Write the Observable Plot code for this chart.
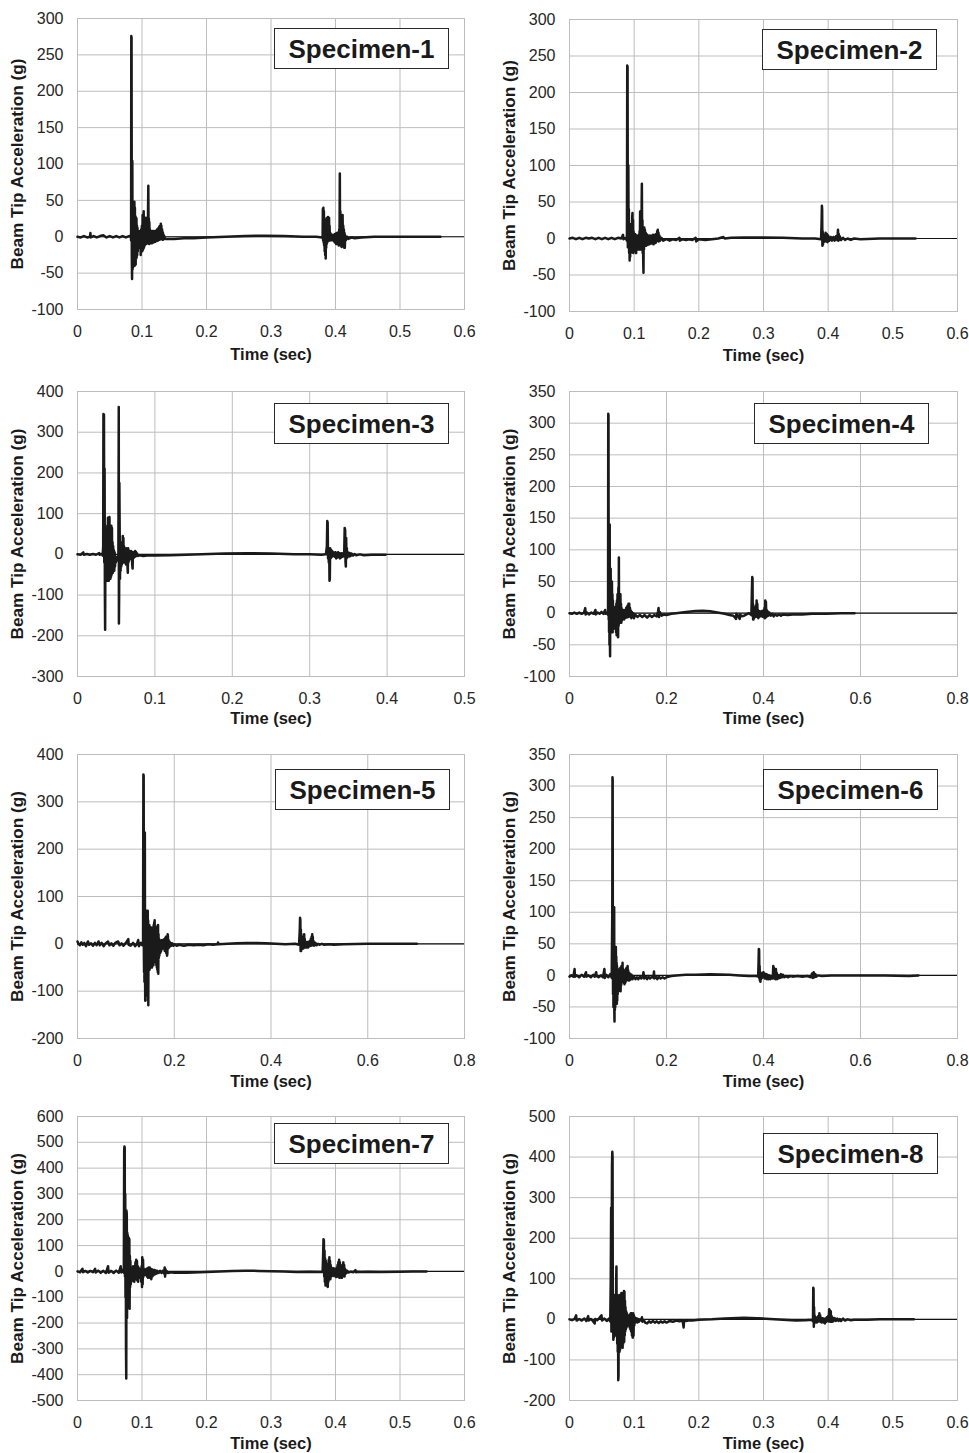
<!DOCTYPE html>
<html><head><meta charset="utf-8">
<script src="https://cdn.jsdelivr.net/npm/d3@7"></script>
<script src="https://cdn.jsdelivr.net/npm/@observablehq/plot@0.6"></script>
<style>
body{margin:0;background:#fff;}
#root{position:relative;width:969px;height:1453px;font-family:"Liberation Sans",Arial,sans-serif;background:#fff;}
.panel{position:absolute;}
.tag{position:absolute;border:1.5px solid #2a2a2a;background:#fff;font-weight:bold;font-size:26px;color:#1a1a1a;display:flex;align-items:center;justify-content:center;box-sizing:border-box;line-height:1;}
</style></head><body><div id="root"></div>
<script>
// ---- tick values ----
const xTicks06 = [0, 0.1, 0.2, 0.3, 0.4, 0.5, 0.6];
const xTicks05 = [0, 0.1, 0.2, 0.3, 0.4, 0.5];
const xTicks08 = [0, 0.2, 0.4, 0.6, 0.8];
const yTicks300 = [-100, -50, 0, 50, 100, 150, 200, 250, 300];
const yTicks350 = [-100, -50, 0, 50, 100, 150, 200, 250, 300, 350];
const yTicks3 = [-300, -200, -100, 0, 100, 200, 300, 400];
const yTicks5 = [-200, -100, 0, 100, 200, 300, 400];
const yTicks7 = [-500, -400, -300, -200, -100, 0, 100, 200, 300, 400, 500, 600];
const yTicks8 = [-200, -100, 0, 100, 200, 300, 400, 500];
const specimenNames = ["Specimen-1","Specimen-2","Specimen-3","Specimen-4","Specimen-5","Specimen-6","Specimen-7","Specimen-8"];

// ---- series: [time (sec), beam tip acceleration (g)] ----
const specimen1 = [[0,0],[0.005,-1],[0.01,1],[0.015,-1],[0.0195,0],[0.02,5],[0.0205,-1],[0.025,1],[0.03,-1],[0.035,1],[0.04,2],[0.045,-1],[0.05,1],[0.055,-1],[0.06,1],[0.065,-1],[0.07,1],[0.075,-1],[0.08,1],[0.0828,0],
[0.0831,-5],[0.0834,276],[0.0838,274],[0.0842,-30],[0.0846,-58],[0.085,104],[0.0854,-45],[0.0858,35],[0.0862,-42],[0.0866,30],[0.087,-40],[0.0874,47],[0.0878,-38],[0.0882,48],[0.0886,-40],[0.089,40],[0.0894,-35],[0.0898,28],[0.0902,-38],[0.0906,26],[0.091,-30],[0.0914,25],[0.0918,-28],[0.0922,15],[0.0926,-25],[0.093,12],[0.0935,-20],[0.094,8],[0.0945,-15],[0.095,5],[0.0956,-12],[0.0962,6],[0.0968,-10],[0.0974,8],[0.098,-25],[0.0986,10],[0.0992,-15],[0.0998,15],
[0.1004,-20],[0.101,30],[0.1016,-18],[0.1022,28],[0.1026,35],[0.103,-15],[0.1036,25],[0.1042,-12],[0.1048,22],[0.1054,-10],[0.106,26],[0.1066,-10],[0.1072,20],[0.1078,-8],[0.1084,15],[0.109,-9],[0.1094,40],[0.1098,70],[0.1102,5],[0.1106,25],[0.111,-10],[0.1114,20],[0.1118,-8],[0.1124,10],[0.113,-9],[0.1136,8],[0.1142,-8],[0.1148,6],[0.1154,-9],[0.116,8],[0.1166,-7],[0.1172,6],[0.1178,-8],[0.1184,8],[0.119,-6],[0.1196,6],[0.1202,-7],[0.1208,8],[0.1214,-5],[0.122,8],[0.1226,-6],[0.1232,10],[0.1238,-5],[0.1244,10],[0.125,-5],[0.1256,12],[0.1262,-4],[0.1268,14],[0.1274,-4],[0.128,15],[0.1286,-3],[0.1292,18],[0.1296,5],[0.13,15],[0.1306,-3],[0.1312,10],[0.1318,-4],[0.1324,6],[0.133,-4],[0.134,2],[0.136,-3],[0.14,-3],[0.15,-3],[0.165,-2],[0.18,-2],[0.2,-1],[0.23,0],[0.26,1],[0.29,1.5],[0.32,1],[0.35,0],[0.37,0],[0.3795,-1],
[0.38,-2],[0.3804,38],[0.3808,-5],[0.3812,40],[0.3816,-8],[0.382,35],[0.3824,-12],[0.3828,25],[0.3832,-20],[0.3836,20],[0.384,-25],[0.3844,15],[0.3848,-30],[0.3852,10],[0.3856,-15],[0.386,22],[0.3864,-10],[0.3868,26],[0.3872,-8],[0.3876,24],[0.388,-6],[0.3884,27],[0.3888,-5],[0.3892,25],[0.3896,-4],[0.39,26],[0.3904,-4],[0.3908,15],[0.3914,-5],[0.392,5],[0.393,-5],[0.394,3],[0.395,-4],[0.396,2],[0.397,-6],[0.398,3],[0.399,-8],[0.4,4],[0.401,-10],[0.402,5],[0.403,-10],[0.404,6],[0.405,-12],[0.4058,10],[0.4062,-10],[0.4067,87],[0.4071,-8],[0.4075,35],[0.4079,-12],[0.4083,30],[0.4087,-12],[0.4091,28],[0.4095,-14],[0.41,25],[0.4105,-12],[0.411,30],[0.4115,-10],[0.412,15],[0.4125,-12],[0.413,10],[0.4135,-15],[0.414,5],[0.4145,-15],[0.415,2],[0.416,-5],[0.418,0],[0.42,-3],[0.425,-1],[0.43,-2],[0.44,-1],[0.46,0],[0.5,0],[0.5627,0]];

const specimen2 = [[0,0],[0.005,1],[0.01,-1],[0.015,1],[0.02,-1],[0.025,1],[0.03,0],[0.035,1],[0.04,-1],[0.045,1],[0.05,-1],[0.055,1],[0.06,-1],[0.065,1],[0.07,-1],[0.075,1],[0.08,0],[0.0828,5],[0.0834,-1],[0.087,1],[0.0888,-3],
[0.0893,237],[0.0898,235],[0.0902,-12],[0.0906,60],[0.091,100],[0.0914,-10],[0.0918,40],[0.0922,-20],[0.0926,20],[0.093,-30],[0.0934,15],[0.0938,-25],[0.0942,10],[0.0946,-20],[0.095,12],[0.0955,-18],[0.096,20],[0.0965,-15],[0.097,30],[0.0974,35],[0.0978,-15],[0.0982,25],[0.0986,-20],[0.099,10],[0.0995,-18],[0.1,5],[0.1006,-15],[0.1012,6],[0.1018,-12],[0.1024,5],[0.103,-20],[0.1036,4],[0.1042,-15],[0.1048,3],[0.1054,-12],[0.106,4],[0.1066,-15],[0.1072,5],[0.1078,-12],[0.1084,10],[0.1088,-15],[0.1092,37],[0.1096,-10],[0.11,30],[0.1104,-15],[0.1108,20],[0.1112,-12],[0.1116,50],[0.1119,75],[0.1124,-10],[0.1128,25],[0.1132,-20],[0.1136,15],[0.114,-30],[0.1144,-47],[0.1148,10],[0.1152,-15],[0.1156,15],[0.116,-10],[0.1166,12],[0.1172,-8],[0.1178,8],[0.1184,-10],[0.119,6],[0.1196,-8],[0.1202,5],[0.1208,-9],[0.1214,4],[0.122,-7],[0.1228,3],[0.1236,-8],[0.1244,4],[0.1252,-6],[0.126,3],[0.1268,-7],[0.1276,4],[0.1284,-6],[0.1292,5],[0.13,-8],[0.1308,4],[0.1316,-6],[0.1324,5],[0.1332,-6],[0.134,6],[0.1348,-4],[0.1356,10],[0.136,-3],[0.1365,12],[0.137,-3],[0.1376,8],[0.1382,-4],[0.139,4],[0.14,-3],[0.142,1],[0.145,-3],[0.15,-1],[0.155,-3],[0.16,-1],[0.165,-2],[0.17,1],[0.1705,-3],[0.175,-1],[0.18,-2],[0.185,-1],[0.19,-2],[0.195,1],[0.196,-4],[0.2,-1],[0.21,-2],[0.22,-1],[0.23,0],[0.238,2],[0.24,0],[0.25,1],[0.27,1.5],[0.3,1.5],[0.33,1],[0.36,0],[0.38,0],[0.389,-1],
[0.3898,20],[0.3903,45],[0.3907,40],[0.3911,-10],[0.3915,10],[0.392,-8],[0.3925,5],[0.393,-5],[0.394,3],[0.395,-4],[0.396,8],[0.397,-4],[0.398,6],[0.399,-5],[0.4,4],[0.402,-3],[0.404,2],[0.406,-3],[0.408,2],[0.41,-3],[0.412,3],[0.414,-2],[0.4152,12],[0.4158,-3],[0.4164,6],[0.417,-2],[0.418,3],[0.42,-2],[0.423,1],[0.426,-2],[0.43,0],[0.435,-2],[0.44,0],[0.45,-1],[0.48,0],[0.51,0],[0.535,0]];

const specimen3 = [[0,0],[0.004,-1],[0.0075,5],[0.008,-1],[0.012,1],[0.016,-1],[0.02,1],[0.024,-1],[0.028,3],[0.0285,-1],[0.031,1],[0.0325,-3],[0.0332,20],[0.0335,345],[0.0342,343],[0.0346,-20],[0.035,210],[0.0354,-100],[0.0357,-185],[0.0361,40],[0.0365,-60],[0.0369,50],[0.0373,-55],[0.0377,60],[0.0381,-65],[0.0385,70],[0.0389,-60],[0.0393,90],[0.0397,-62],[0.0401,85],[0.0405,-65],[0.0409,88],[0.0413,92],[0.0417,-60],[0.0421,70],[0.0425,-60],[0.0429,50],[0.0433,-55],[0.0437,70],[0.0441,-50],[0.0445,65],[0.0449,-45],[0.0453,30],[0.0457,-45],[0.0461,20],[0.0465,-35],[0.047,10],[0.0475,-40],[0.048,5],[0.0485,-30],[0.049,-5],[0.0495,-20],[0.05,-10],[0.051,-15],[0.052,-5],[0.0528,-10],[0.0531,200],[0.0533,362],[0.0535,-170],[0.0538,-100],[0.0541,175],[0.0545,60],[0.0549,-60],[0.0553,30],[0.0557,-40],[0.0561,25],[0.0565,-30],[0.0569,20],[0.0573,-25],[0.0577,30],[0.0581,-20],[0.0585,45],[0.0589,-15],[0.0593,40],[0.0597,-20],[0.0601,20],[0.0606,-15],[0.0611,15],[0.0616,-20],[0.0621,12],[0.0626,-25],[0.0631,15],[0.0636,-20],[0.0641,10],[0.0646,-30],[0.065,-45],[0.0654,15],[0.0658,-20],[0.0662,10],[0.0667,-15],[0.0672,8],[0.0677,-12],[0.0682,6],[0.0687,-10],[0.0692,8],[0.0697,-10],[0.0702,6],[0.0707,-25],[0.0712,-35],[0.0716,6],[0.072,-10],[0.0725,5],[0.073,-8],[0.0735,4],[0.074,-6],[0.0745,8],[0.075,-5],[0.0755,6],[0.076,-4],[0.077,2],[0.078,-4],[0.08,-2],[0.085,-4],[0.09,-3],[0.1,-3],[0.12,-2],[0.14,-1],[0.16,0],[0.19,2],[0.22,3],[0.25,2],[0.28,0],[0.3,0],[0.315,-1],[0.321,0],
[0.3222,20],[0.3227,82],[0.3232,78],[0.3237,-10],[0.3242,15],[0.3247,-20],[0.3252,10],[0.3256,-65],[0.326,-60],[0.3264,15],[0.3268,-10],[0.3272,12],[0.3276,-8],[0.328,10],[0.3285,-6],[0.329,8],[0.3296,-5],[0.3302,5],[0.331,-4],[0.3318,4],[0.3326,-6],[0.3334,5],[0.3342,-10],[0.335,3],[0.3358,-8],[0.3366,5],[0.3374,-6],[0.3382,3],[0.339,-10],[0.3398,2],[0.3406,-8],[0.3414,3],[0.3422,-6],[0.343,2],[0.3438,-5],[0.3446,4],[0.3452,65],[0.3458,60],[0.3463,-20],[0.3467,-30],[0.3471,40],[0.3475,-10],[0.348,15],[0.3485,-8],[0.349,5],[0.3496,-5],[0.3502,4],[0.351,-5],[0.352,3],[0.353,-4],[0.354,2],[0.356,-3],[0.358,1],[0.36,-2],[0.365,0],[0.37,-2],[0.38,-1],[0.39,-1],[0.398,-1]];

const specimen4 = [[0,0],[0.005,-1],[0.01,1],[0.015,-1],[0.02,1],[0.025,-1],[0.03,1],[0.0325,8],[0.0332,-2],[0.036,1],[0.04,-2],[0.045,1],[0.05,-1],[0.0535,5],[0.0542,-2],[0.058,1],[0.062,-1],[0.066,2],[0.07,-1],[0.0735,5],[0.0742,-1],[0.077,1],[0.0795,-3],
[0.0799,315],[0.0804,313],[0.0808,-10],[0.0812,60],[0.0816,-30],[0.082,70],[0.0824,-50],[0.0829,140],[0.0833,-40],[0.0837,-68],[0.0841,50],[0.0845,-30],[0.0849,70],[0.0853,-25],[0.0857,50],[0.0861,-30],[0.0865,40],[0.087,-25],[0.0875,50],[0.088,-20],[0.0885,30],[0.089,-30],[0.0895,20],[0.09,-25],[0.0906,10],[0.0912,-20],[0.0918,5],[0.0924,-15],[0.093,8],[0.0936,-20],[0.0942,5],[0.0948,-25],[0.0954,10],[0.096,-30],[0.0966,15],[0.0972,-35],[0.0978,20],[0.0984,-25],[0.099,30],[0.0996,-35],[0.1002,-38],[0.1008,40],[0.1014,-20],[0.1018,88],[0.1022,-15],[0.1026,30],[0.1032,-15],[0.1038,25],[0.1044,-10],[0.105,30],[0.1056,-12],[0.1062,15],[0.1068,-15],[0.1074,8],[0.108,-12],[0.1088,5],[0.1096,-10],[0.1104,3],[0.1112,-8],[0.112,5],[0.1128,-10],[0.1136,3],[0.1144,-8],[0.1152,5],[0.116,-6],[0.1168,8],[0.1176,-7],[0.1184,10],[0.1192,-6],[0.12,12],[0.1208,-6],[0.1216,15],[0.1224,-5],[0.1232,15],[0.124,-5],[0.1248,8],[0.1256,-6],[0.1266,4],[0.1276,-8],[0.1286,2],[0.13,-6],[0.1315,0],[0.133,-8],[0.135,-2],[0.14,-6],[0.145,-3],[0.15,-6],[0.155,-3],[0.16,-7],[0.165,-3],[0.17,-6],[0.175,-3],[0.18,-5],[0.1826,3],[0.1836,8],[0.1846,-6],[0.186,2],[0.19,-4],[0.195,-2],[0.2,-3],[0.21,-1],[0.22,0],[0.24,2],[0.26,3.5],[0.275,4],[0.29,3],[0.305,1],[0.32,-1],[0.33,-3],[0.338,-4],[0.3435,-9],[0.344,-1],[0.348,-5],[0.351,-9],[0.3515,-2],[0.355,-5],[0.36,-4],[0.365,-2],[0.37,0],[0.375,-3],
[0.3762,40],[0.3768,57],[0.3774,55],[0.3778,-5],[0.3782,15],[0.3786,-10],[0.379,10],[0.3794,-10],[0.3798,5],[0.3804,-8],[0.381,5],[0.3818,-5],[0.3826,8],[0.3834,-6],[0.3842,12],[0.385,-5],[0.3858,20],[0.3866,-4],[0.3872,15],[0.3878,-6],[0.3886,5],[0.3894,-8],[0.3902,3],[0.391,-6],[0.392,3],[0.393,-5],[0.394,2],[0.395,-5],[0.396,3],[0.397,-4],[0.398,4],[0.399,-6],[0.4,3],[0.401,-5],[0.402,8],[0.4028,-8],[0.4036,20],[0.4044,-7],[0.405,18],[0.4058,-6],[0.4066,5],[0.4074,-5],[0.4084,3],[0.41,-4],[0.412,1],[0.415,-4],[0.418,-1],[0.421,-5],[0.424,-2],[0.428,-4],[0.432,-2],[0.436,-4],[0.44,-2],[0.45,-3],[0.46,-2],[0.48,-2],[0.5,-1],[0.53,-1],[0.56,0],[0.5877,0]];

const specimen5 = [[0,5],[0.002,0],[0.005,-3],[0.008,3],[0.011,-2],[0.014,2],[0.0175,-5],[0.0215,5],[0.024,-2],[0.028,1],[0.032,-4],[0.036,2],[0.0395,-3],[0.0434,5],[0.046,-3],[0.05,2],[0.054,-5],[0.058,1],[0.063,5],[0.066,-3],[0.07,1],[0.074,-4],[0.078,2],[0.084,5],[0.087,-3],[0.091,1],[0.095,-4],[0.1,2],[0.105,10],[0.1058,-2],[0.11,-4],[0.115,2],[0.119,-5],[0.1225,-1],[0.1255,8],[0.127,-5],[0.131,2],[0.134,-3],[0.1355,0],
[0.1362,358],[0.1368,355],[0.1372,-20],[0.1376,-60],[0.138,40],[0.1384,-80],[0.1388,100],[0.1392,235],[0.1396,-50],[0.14,-120],[0.1404,50],[0.1408,-110],[0.1412,70],[0.1416,-60],[0.142,60],[0.1424,-50],[0.1428,70],[0.1432,-60],[0.1436,50],[0.144,-80],[0.1444,65],[0.1448,-100],[0.1452,70],[0.1456,-120],[0.146,50],[0.1464,-130],[0.1468,40],[0.1472,-55],[0.1476,35],[0.148,-45],[0.1485,40],[0.149,-55],[0.1495,30],[0.15,-50],[0.1505,25],[0.151,-45],[0.1515,35],[0.152,-50],[0.1525,30],[0.153,-45],[0.1535,20],[0.154,-50],[0.1545,25],[0.155,-45],[0.1555,30],[0.156,-40],[0.1565,35],[0.157,-45],[0.1575,40],[0.158,-40],[0.1585,45],[0.159,-35],[0.1595,50],[0.16,-30],[0.1605,35],[0.161,-35],[0.1615,20],[0.162,-40],[0.1625,25],[0.163,-45],[0.1635,30],[0.164,-50],[0.1645,35],[0.165,-55],[0.1655,38],[0.166,-60],[0.1665,40],[0.167,-63],[0.1675,20],[0.168,-30],[0.1686,10],[0.1692,-25],[0.1698,8],[0.1704,-20],[0.171,5],[0.1716,-18],[0.1722,6],[0.1728,-15],[0.1734,5],[0.174,-12],[0.1748,8],[0.1756,-10],[0.1764,5],[0.1772,-8],[0.178,8],[0.1788,-10],[0.1796,10],[0.1804,-15],[0.1812,12],[0.182,-15],[0.1828,15],[0.1836,-20],[0.1844,10],[0.1852,-25],[0.1858,-20],[0.1864,20],[0.187,15],[0.1876,-10],[0.1882,8],[0.189,-8],[0.1898,5],[0.1906,-6],[0.1914,3],[0.1922,-5],[0.193,2],[0.194,-4],[0.196,1],[0.198,-4],[0.2,-1],[0.205,-4],[0.21,-2],[0.22,-4],[0.23,-2],[0.24,-3],[0.25,-2],[0.26,-3],[0.27,-1],[0.28,-2],[0.29,-1],[0.2905,3],[0.292,-1],[0.31,0],[0.33,1],[0.35,2],[0.37,2],[0.39,1],[0.41,0],[0.43,-1],[0.45,0],[0.458,-2],
[0.4595,30],[0.4601,55],[0.4607,50],[0.4612,-15],[0.4617,30],[0.4622,-15],[0.4627,20],[0.4632,-12],[0.4638,10],[0.4644,-10],[0.465,8],[0.4656,-8],[0.4662,12],[0.4668,-10],[0.4674,15],[0.468,-8],[0.4686,20],[0.4692,-6],[0.4698,10],[0.4704,-8],[0.471,5],[0.4718,-6],[0.4726,4],[0.4734,-8],[0.4742,3],[0.475,-6],[0.4758,4],[0.4766,-8],[0.4774,3],[0.4782,-6],[0.479,5],[0.4798,-5],[0.4806,6],[0.4814,-4],[0.4822,10],[0.483,-4],[0.4838,15],[0.4846,-3],[0.4852,20],[0.4858,-3],[0.4864,15],[0.487,-3],[0.4878,6],[0.4886,-4],[0.4896,3],[0.4906,-3],[0.492,2],[0.494,-3],[0.497,0],[0.5,-2],[0.505,0],[0.51,-2],[0.52,-1],[0.53,-2],[0.55,-1],[0.6,0],[0.65,0],[0.7014,0]];

const specimen6 = [[0,-2],[0.004,0],[0.008,-2],[0.0105,10],[0.0112,-2],[0.015,0],[0.02,-3],[0.025,1],[0.03,-2],[0.034,5],[0.0348,-2],[0.039,0],[0.044,-3],[0.049,1],[0.052,-2],[0.055,5],[0.0558,-1],[0.06,-3],[0.065,0],[0.069,-3],[0.072,10],[0.0728,-4],[0.076,1],[0.08,-3],[0.084,2],[0.087,-4],
[0.0882,100],[0.0886,314],[0.089,310],[0.0894,40],[0.0898,-30],[0.0902,20],[0.0906,-50],[0.091,30],[0.0914,-40],[0.0918,50],[0.0921,108],[0.0925,-60],[0.0928,-73],[0.0932,30],[0.0936,-55],[0.094,40],[0.0944,-50],[0.0948,45],[0.0952,-40],[0.0956,45],[0.096,-35],[0.0964,30],[0.0968,-40],[0.0972,20],[0.0976,-45],[0.098,15],[0.0984,-40],[0.0988,10],[0.0994,-30],[0.1,8],[0.1006,-25],[0.1012,5],[0.1018,-20],[0.1024,8],[0.103,-18],[0.1036,10],[0.1042,-22],[0.1048,12],[0.1054,-25],[0.106,10],[0.1066,-15],[0.1072,15],[0.1078,-10],[0.1084,12],[0.109,-8],[0.1094,20],[0.1098,-8],[0.1104,10],[0.111,-10],[0.1116,6],[0.1122,-12],[0.1128,5],[0.1134,-14],[0.114,5],[0.1146,-12],[0.1152,8],[0.1158,-10],[0.1164,10],[0.117,-8],[0.1176,12],[0.1182,-6],[0.1188,10],[0.1194,-5],[0.1198,15],[0.1204,-6],[0.121,8],[0.1218,-8],[0.1226,4],[0.1234,-8],[0.1242,3],[0.125,-7],[0.126,2],[0.127,-6],[0.128,1],[0.13,-6],[0.133,-2],[0.136,-6],[0.139,-3],[0.142,-6],[0.145,-2],[0.148,-5],[0.1515,-1],[0.1525,5],[0.154,-5],[0.157,-2],[0.16,-6],[0.163,-2],[0.166,-5],[0.17,-2],[0.173,-4],[0.1742,6],[0.175,-5],[0.178,-2],[0.181,-6],[0.184,-2],[0.188,-5],[0.192,-3],[0.196,-5],[0.2,-3],[0.205,-2],[0.21,-1],[0.22,0],[0.24,1],[0.26,1],[0.29,2],[0.31,1.5],[0.33,1],[0.35,0],[0.37,-1],[0.385,-1],[0.389,-2],
[0.3898,20],[0.3904,42],[0.391,40],[0.3915,-5],[0.392,15],[0.3925,-8],[0.393,5],[0.3936,-10],[0.3942,3],[0.395,-6],[0.396,2],[0.397,-4],[0.398,4],[0.399,-3],[0.4,5],[0.401,-3],[0.402,3],[0.403,-5],[0.404,2],[0.405,-5],[0.406,2],[0.407,-6],[0.408,1],[0.41,-6],[0.412,0],[0.414,-6],[0.416,-1],[0.418,-5],[0.4195,2],[0.4202,15],[0.4208,-4],[0.4214,12],[0.422,-5],[0.4226,10],[0.4232,-5],[0.424,8],[0.4248,-6],[0.4256,10],[0.4264,-5],[0.4272,4],[0.428,-6],[0.429,1],[0.43,-5],[0.432,0],[0.434,-4],[0.436,2],[0.438,-3],[0.44,1],[0.443,-3],[0.446,-1],[0.45,-3],[0.455,-1],[0.46,-2],[0.47,-1],[0.48,-2],[0.49,-1],[0.498,-3],[0.5,3],[0.502,-4],[0.5035,5],[0.505,-3],[0.507,2],[0.509,-2],[0.512,0],[0.52,-1],[0.54,0],[0.57,0],[0.6,0],[0.65,0],[0.7,-1],[0.7196,0]];

const specimen7 = [[0,0],[0.004,-3],[0.0077,10],[0.0085,-3],[0.012,2],[0.016,-4],[0.02,2],[0.024,-3],[0.0273,10],[0.0282,-4],[0.032,3],[0.036,-5],[0.04,2],[0.044,-6],[0.0474,20],[0.0482,-5],[0.052,2],[0.056,-6],[0.06,3],[0.064,-5],[0.067,20],[0.0678,-4],[0.07,5],[0.0718,-5],
[0.0724,470],[0.0728,484],[0.0732,480],[0.0736,-20],[0.074,300],[0.0744,-100],[0.0748,230],[0.0752,-300],[0.0756,-415],[0.076,235],[0.0764,220],[0.0768,-180],[0.0772,150],[0.0776,-120],[0.078,140],[0.0784,-80],[0.0788,100],[0.0792,-100],[0.0796,130],[0.08,-140],[0.0804,125],[0.0808,-145],[0.0812,60],[0.0816,-60],[0.082,40],[0.0825,-50],[0.083,15],[0.0835,-40],[0.084,10],[0.0845,-30],[0.085,12],[0.0856,-25],[0.0862,20],[0.0868,-35],[0.0874,15],[0.088,-40],[0.0886,20],[0.0892,-30],[0.0898,35],[0.0904,-25],[0.091,45],[0.0916,-30],[0.0922,40],[0.0928,-35],[0.0934,20],[0.094,-40],[0.0946,15],[0.0952,-25],[0.0958,10],[0.0964,-20],[0.097,8],[0.0976,-25],[0.0982,10],[0.0988,-40],[0.0994,20],[0.1,-60],[0.1004,55],[0.101,-50],[0.1016,45],[0.1022,-20],[0.1028,10],[0.1034,-15],[0.104,8],[0.1048,-12],[0.1056,5],[0.1064,-15],[0.1072,10],[0.108,-20],[0.1088,12],[0.1096,-25],[0.1104,15],[0.1112,-20],[0.112,15],[0.1128,-25],[0.1136,10],[0.1144,-30],[0.1152,8],[0.116,-20],[0.1168,5],[0.1176,-15],[0.1184,5],[0.1192,-12],[0.12,5],[0.121,-10],[0.122,3],[0.123,-8],[0.124,2],[0.126,-6],[0.128,2],[0.13,-6],[0.132,2],[0.134,-8],[0.1352,15],[0.1358,-20],[0.1364,8],[0.137,-8],[0.138,2],[0.14,-6],[0.145,-3],[0.15,-5],[0.16,-4],[0.17,-5],[0.18,-4],[0.19,-3],[0.2,-2],[0.22,0],[0.24,2],[0.26,3],[0.28,2],[0.3,1],[0.32,0],[0.34,-2],[0.36,-1],[0.38,-2],
[0.3808,60],[0.3814,125],[0.382,120],[0.3825,-20],[0.383,80],[0.3835,-40],[0.384,50],[0.3845,-55],[0.385,40],[0.3855,-45],[0.386,30],[0.3865,-50],[0.387,20],[0.3875,-55],[0.388,-60],[0.3885,25],[0.389,-40],[0.3895,45],[0.39,-30],[0.3905,55],[0.391,-25],[0.3915,40],[0.392,-30],[0.3925,25],[0.393,-20],[0.3936,15],[0.3942,-15],[0.3948,12],[0.3954,-15],[0.396,10],[0.3966,-18],[0.3972,12],[0.3978,-15],[0.3984,10],[0.399,-12],[0.3996,8],[0.4002,-20],[0.4008,10],[0.4014,-22],[0.402,15],[0.4026,-20],[0.4032,25],[0.4038,-15],[0.4044,35],[0.405,-20],[0.4056,45],[0.4062,-25],[0.4068,35],[0.4074,-15],[0.408,25],[0.4086,-20],[0.4092,20],[0.4098,-25],[0.4104,15],[0.411,-20],[0.4116,20],[0.4122,35],[0.4128,-15],[0.4134,25],[0.414,-20],[0.4146,10],[0.4152,-10],[0.416,5],[0.417,-6],[0.418,3],[0.42,-4],[0.424,-1],[0.428,-3],[0.431,5],[0.4318,-3],[0.435,-1],[0.44,-2],[0.45,-1],[0.47,-2],[0.5,-1],[0.52,0],[0.541,0]];

const specimen8 = [[0,0],[0.004,-2],[0.008,1],[0.0103,10],[0.011,-3],[0.015,1],[0.019,-3],[0.023,2],[0.026,-4],[0.0289,8],[0.0297,-3],[0.033,1],[0.036,-4],[0.039,-10],[0.0398,1],[0.043,-2],[0.046,3],[0.0495,10],[0.0503,-3],[0.054,2],[0.058,-4],[0.061,2],[0.063,-5],
[0.0638,100],[0.0644,275],[0.0648,-30],[0.0652,150],[0.0657,380],[0.0662,413],[0.0666,400],[0.067,-20],[0.0674,60],[0.0678,-50],[0.0682,55],[0.0686,-45],[0.069,60],[0.0694,-40],[0.0698,50],[0.0702,-35],[0.0706,55],[0.071,-40],[0.0714,60],[0.0718,-30],[0.0722,100],[0.0726,130],[0.073,-40],[0.0734,60],[0.0738,-60],[0.0742,50],[0.0746,-80],[0.075,40],[0.0754,-150],[0.0758,-140],[0.0762,55],[0.0766,-70],[0.077,60],[0.0774,-80],[0.0778,55],[0.0782,-75],[0.0786,50],[0.079,-70],[0.0794,60],[0.0798,-65],[0.0802,65],[0.0806,-60],[0.081,50],[0.0814,-65],[0.0818,60],[0.0822,-70],[0.0826,55],[0.083,-60],[0.0834,65],[0.0838,-50],[0.0842,70],[0.0846,-55],[0.085,68],[0.0854,-40],[0.0858,45],[0.0862,-30],[0.0866,30],[0.087,-25],[0.0876,20],[0.0882,-20],[0.0888,15],[0.0894,-15],[0.09,10],[0.0906,-10],[0.0912,8],[0.0918,-15],[0.0924,10],[0.093,-20],[0.0936,12],[0.0942,-25],[0.0948,15],[0.0954,-30],[0.096,15],[0.0966,-40],[0.0972,12],[0.0978,-45],[0.0984,15],[0.099,-40],[0.0996,10],[0.1002,-15],[0.1008,5],[0.1016,-8],[0.1024,3],[0.1032,-6],[0.104,2],[0.105,-8],[0.106,1],[0.107,-6],[0.109,0],[0.111,-3],[0.112,5],[0.113,-6],[0.115,-2],[0.117,-8],[0.12,-10],[0.123,-5],[0.126,-8],[0.129,-4],[0.132,-8],[0.135,-5],[0.138,-9],[0.141,-5],[0.144,-8],[0.147,-5],[0.15,-8],[0.155,-4],[0.16,-6],[0.165,-3],[0.17,-5],[0.175,-3],[0.1765,-20],[0.1772,-2],[0.18,-4],[0.185,-2],[0.19,-3],[0.2,-1],[0.22,0],[0.24,2],[0.26,3.5],[0.27,4],[0.29,3],[0.31,1],[0.33,-1],[0.35,-3],[0.365,-2],[0.375,-1],[0.3765,-5],
[0.377,78],[0.3774,75],[0.3778,-18],[0.3782,30],[0.3786,-10],[0.379,10],[0.3796,-8],[0.3802,5],[0.3808,-6],[0.3816,3],[0.3824,-8],[0.3832,5],[0.384,-5],[0.3848,8],[0.3856,-5],[0.3864,15],[0.387,-3],[0.3876,10],[0.3882,-6],[0.389,4],[0.3898,-8],[0.3906,3],[0.3914,-6],[0.3922,2],[0.393,-8],[0.394,1],[0.395,-10],[0.396,2],[0.397,-6],[0.398,5],[0.399,-4],[0.4,8],[0.4008,-5],[0.4016,25],[0.4022,-5],[0.4028,22],[0.4034,-6],[0.404,20],[0.4046,-5],[0.4052,8],[0.406,-6],[0.407,4],[0.408,-5],[0.41,3],[0.412,-4],[0.414,2],[0.416,-4],[0.418,1],[0.42,-4],[0.423,2],[0.426,-3],[0.43,0],[0.435,-2],[0.44,-1],[0.46,-1],[0.48,0],[0.5,0],[0.5325,0]];

// ---- layout ----
const FONT = '"Liberation Sans", Arial, Helvetica, sans-serif';
const panels = [
  {data: specimen1, left: 0,   top: 0,    w: 484, h: 370, ml: 77, mr: 20, mt: 18, mb: 61, xd: [0, 0.6], xt: xTicks06, yd: [-100, 300], yt: yTicks300, xl: 45, tag: [274, 28]},
  {data: specimen2, left: 490, top: 0,    w: 479, h: 370, ml: 79, mr: 12, mt: 19, mb: 59, xd: [0, 0.6], xt: xTicks06, yd: [-100, 300], yt: yTicks300, xl: 44, tag: [762, 29]},
  {data: specimen3, left: 0,   top: 375,  w: 484, h: 355, ml: 77, mr: 20, mt: 16, mb: 54, xd: [0, 0.5], xt: xTicks05, yd: [-300, 400], yt: yTicks3,   xl: 42, tag: [274, 403]},
  {data: specimen4, left: 490, top: 375,  w: 479, h: 355, ml: 79, mr: 12, mt: 16, mb: 54, xd: [0, 0.8], xt: xTicks08, yd: [-100, 350], yt: yTicks350, xl: 42, tag: [754, 403]},
  {data: specimen5, left: 0,   top: 735,  w: 484, h: 360, ml: 77, mr: 20, mt: 19, mb: 57, xd: [0, 0.8], xt: xTicks08, yd: [-200, 400], yt: yTicks5,   xl: 43, tag: [275, 769]},
  {data: specimen6, left: 490, top: 735,  w: 479, h: 360, ml: 79, mr: 12, mt: 19, mb: 57, xd: [0, 0.8], xt: xTicks08, yd: [-100, 350], yt: yTicks350, xl: 43, tag: [763, 769]},
  {data: specimen7, left: 0,   top: 1095, w: 484, h: 358, ml: 77, mr: 20, mt: 21, mb: 53, xd: [0, 0.6], xt: xTicks06, yd: [-500, 600], yt: yTicks7,   xl: 43, tag: [274, 1123]},
  {data: specimen8, left: 490, top: 1095, w: 479, h: 358, ml: 79, mr: 12, mt: 21, mb: 53, xd: [0, 0.6], xt: xTicks06, yd: [-200, 500], yt: yTicks8,   xl: 43, tag: [763, 1133]}
];

const root = document.getElementById("root");
const fmt = d => String(d);
panels.forEach((p, i) => {
  const chart = Plot.plot({
    width: p.w, height: p.h,
    marginLeft: p.ml, marginRight: p.mr, marginTop: p.mt, marginBottom: p.mb,
    style: {fontFamily: FONT, fontSize: "16px", color: "#262626", background: "#fff", overflow: "visible"},
    x: {domain: p.xd, label: null},
    y: {domain: p.yd, label: null},
    marks: [
      Plot.gridX({ticks: p.xt, stroke: "#bdbdbd", strokeOpacity: 1, strokeWidth: 1}),
      Plot.gridY({ticks: p.yt, stroke: "#bdbdbd", strokeOpacity: 1, strokeWidth: 1}),
      Plot.frame({stroke: "#bdbdbd", strokeWidth: 1}),
      Plot.ruleY([0], {stroke: "#111", strokeWidth: 1.2}),
      Plot.line(p.data, {x: d => d[0], y: d => d[1], stroke: "#1a1a1a", strokeWidth: 2.5}),
      Plot.axisX({ticks: p.xt, tickFormat: fmt, tickSize: 0, tickPadding: 16, label: null, fontSize: 16, fill: "#262626"}),
      Plot.axisY({ticks: p.yt, tickFormat: fmt, tickSize: 0, tickPadding: 14, label: null, fontSize: 16, fill: "#262626"}),
      Plot.text(["Time (sec)"], {frameAnchor: "bottom", dy: p.xl, lineAnchor: "middle", textAnchor: "middle", fontWeight: "bold", fontSize: 16.5, fill: "#1a1a1a"}),
      Plot.text(["Beam Tip Acceleration (g)"], {frameAnchor: "left", dx: -60, rotate: -90, lineAnchor: "middle", textAnchor: "middle", fontWeight: "bold", fontSize: 17.2, fill: "#1a1a1a"})
    ]
  });
  const div = document.createElement("div");
  div.className = "panel";
  div.style.left = p.left + "px";
  div.style.top = p.top + "px";
  div.style.width = p.w + "px";
  div.style.height = p.h + "px";
  div.appendChild(chart);
  root.appendChild(div);

  const tag = document.createElement("div");
  tag.className = "tag";
  tag.style.left = p.tag[0] + "px";
  tag.style.top = p.tag[1] + "px";
  tag.style.width = "175px";
  tag.style.height = "41px";
  tag.textContent = specimenNames[i];
  root.appendChild(tag);
});
</script>
</body></html>
